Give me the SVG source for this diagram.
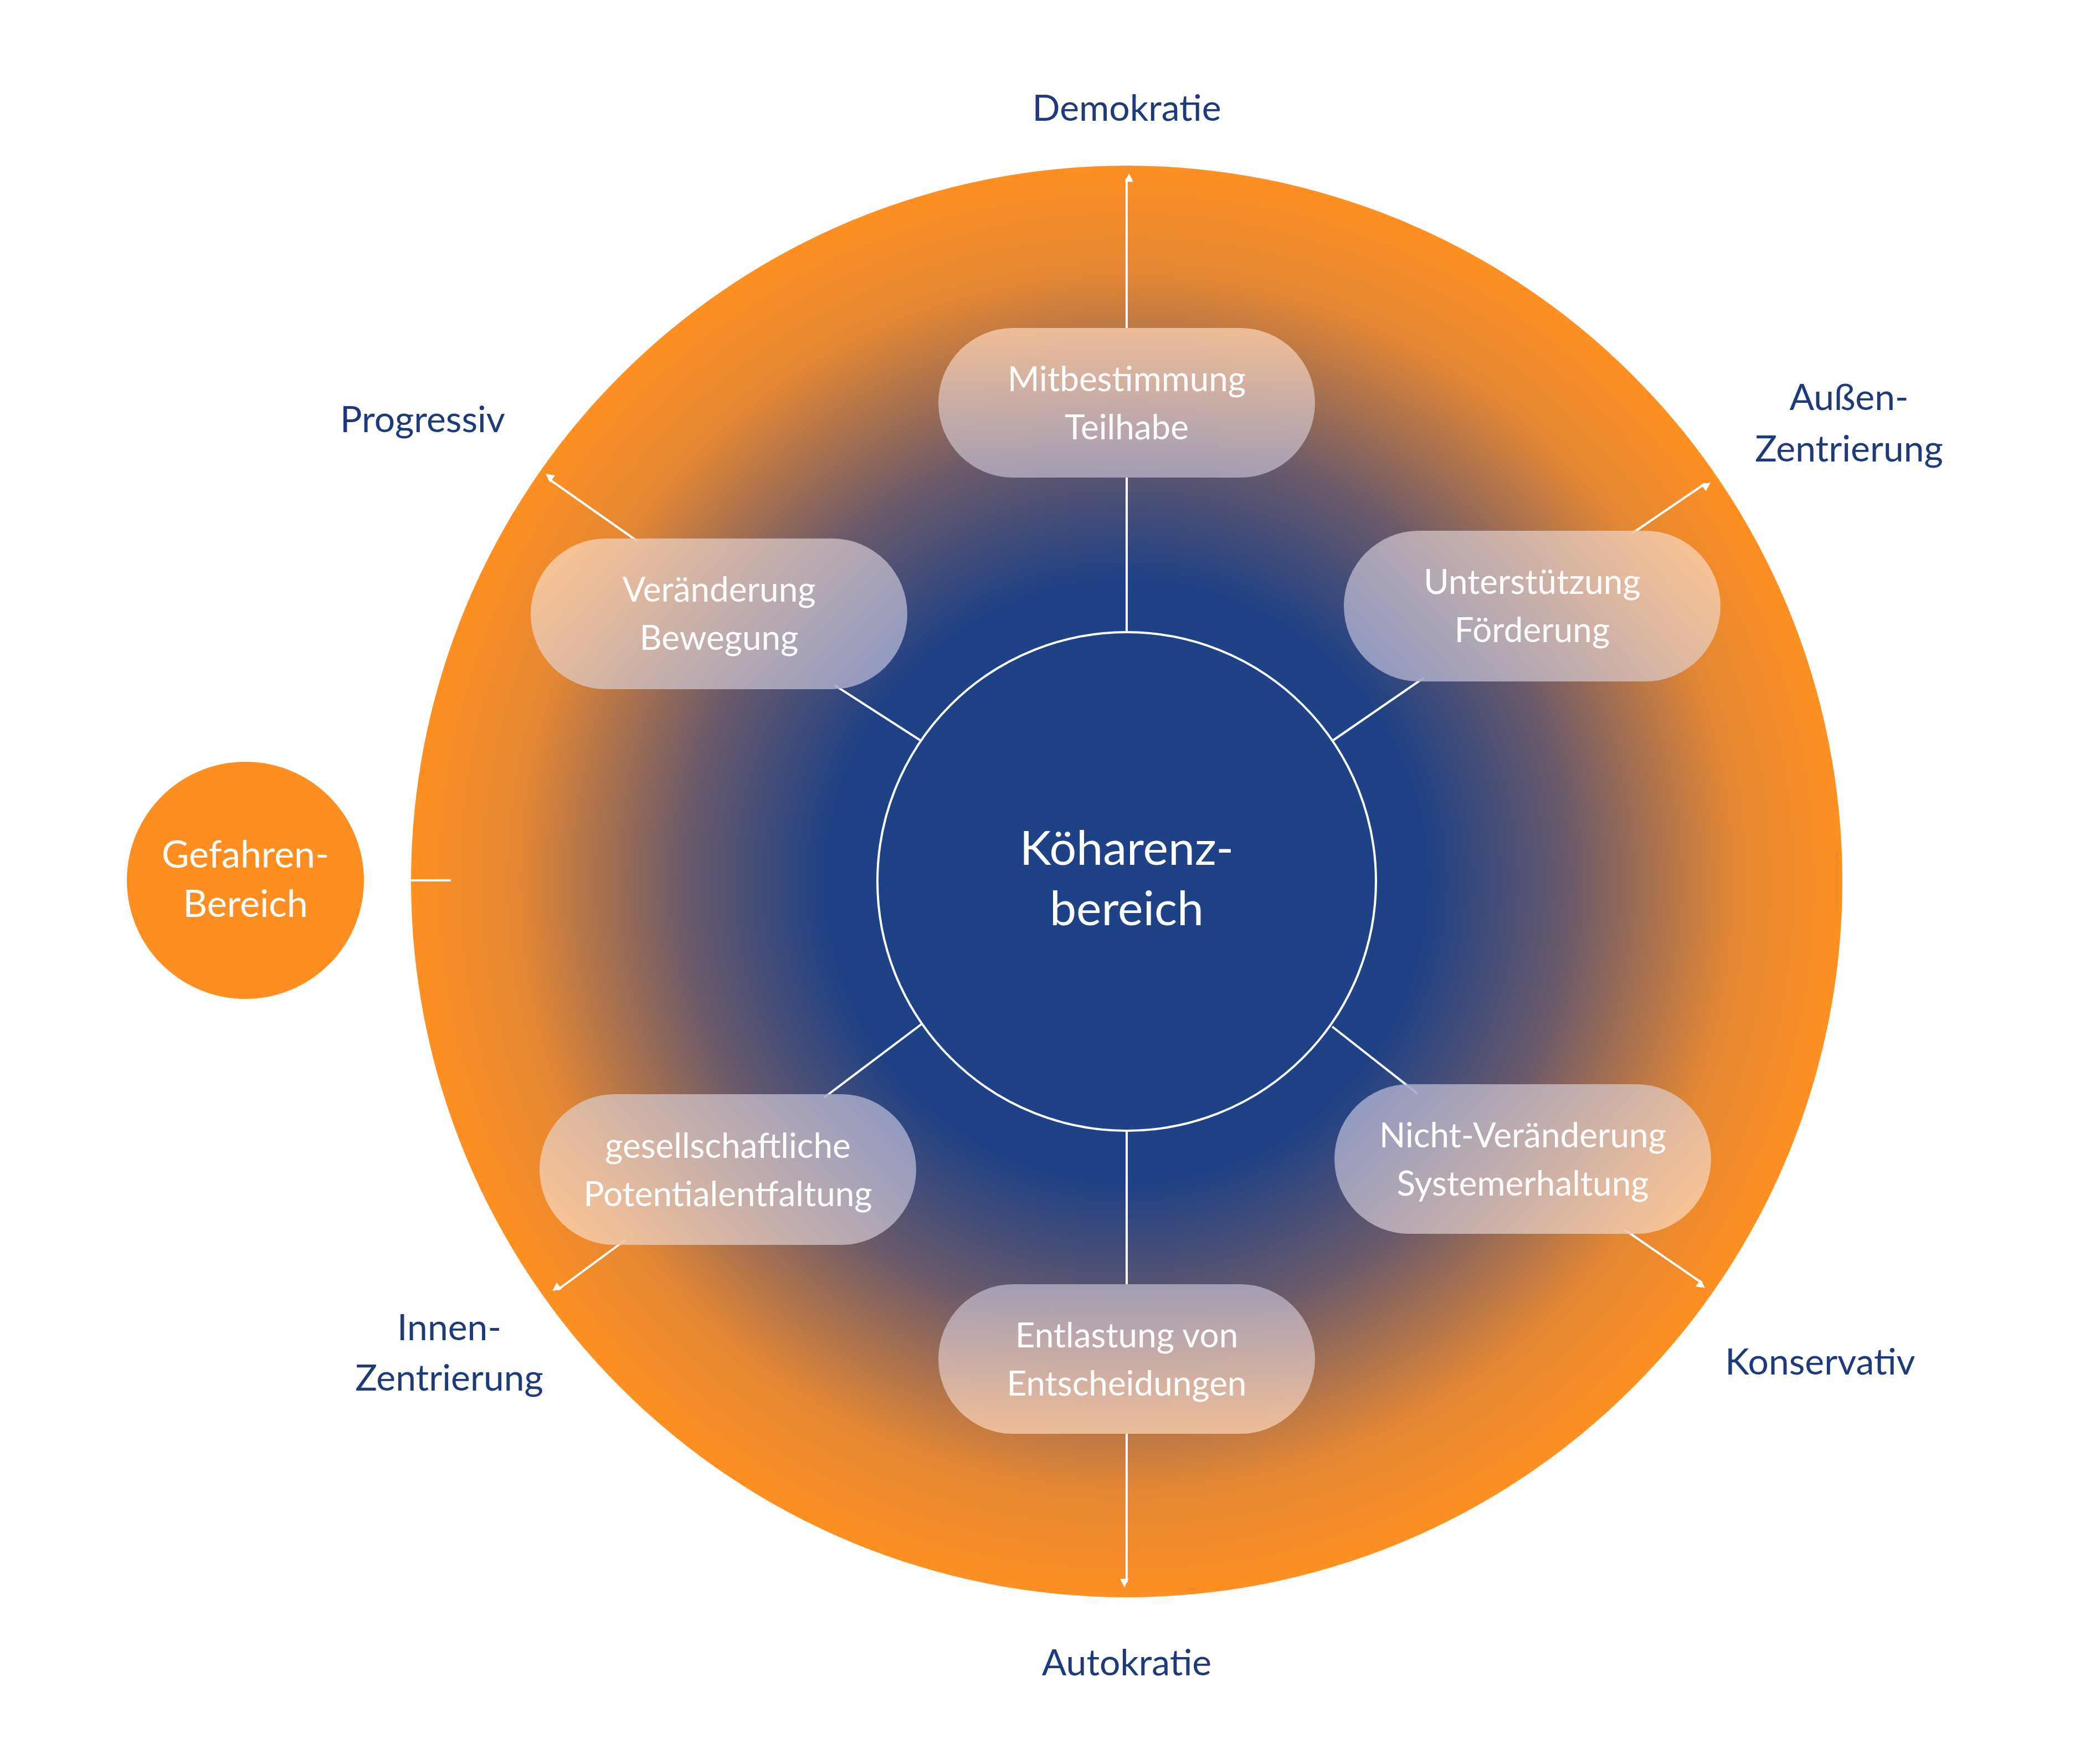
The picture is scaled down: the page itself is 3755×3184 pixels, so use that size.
<svg xmlns="http://www.w3.org/2000/svg" width="3755" height="3184" viewBox="0 0 3755 3184">
<defs>
<radialGradient id="bg" cx="2034" cy="1591" r="1292" gradientUnits="userSpaceOnUse">
<stop offset="0" stop-color="#1f4185"/>
<stop offset="0.42" stop-color="#1f4185"/>
<stop offset="0.62" stop-color="#6b5a6a"/>
<stop offset="0.85" stop-color="#e48734"/>
<stop offset="1" stop-color="#fd8f22"/>
</radialGradient>
<linearGradient id="pTop" x1="0" y1="0" x2="0" y2="1"><stop offset="0" stop-color="#f6c8a6" stop-opacity="0.85"/><stop offset="1" stop-color="#b0aac0" stop-opacity="0.85"/></linearGradient>
<linearGradient id="pBot" x1="0" y1="1" x2="0" y2="0"><stop offset="0" stop-color="#f6c8a6" stop-opacity="0.85"/><stop offset="1" stop-color="#b0aac0" stop-opacity="0.85"/></linearGradient>
<linearGradient id="pUL" x1="0" y1="0.3" x2="1" y2="0.7"><stop offset="0" stop-color="#f8c8a0" stop-opacity="0.9"/><stop offset="1" stop-color="#9ea4c8" stop-opacity="0.9"/></linearGradient>
<linearGradient id="pUR" x1="1" y1="0.3" x2="0" y2="0.7"><stop offset="0" stop-color="#f8c8a0" stop-opacity="0.9"/><stop offset="1" stop-color="#9ea4c8" stop-opacity="0.9"/></linearGradient>
<linearGradient id="pLL" x1="0" y1="0.7" x2="1" y2="0.3"><stop offset="0" stop-color="#f8c8a0" stop-opacity="0.9"/><stop offset="1" stop-color="#9ea4c8" stop-opacity="0.9"/></linearGradient>
<linearGradient id="pLR" x1="1" y1="0.7" x2="0" y2="0.3"><stop offset="0" stop-color="#f8c8a0" stop-opacity="0.9"/><stop offset="1" stop-color="#9ea4c8" stop-opacity="0.9"/></linearGradient>
<marker id="ar" viewBox="0 0 10 10" refX="9" refY="5" markerWidth="7" markerHeight="7" orient="auto" markerUnits="userSpaceOnUse" style="overflow:visible"><path d="M0,0 L10,5 L0,10 z" fill="#fff" transform="scale(2.2) translate(-5,-5) translate(5,5)"/></marker>
</defs>
<style>
.ln{stroke:#fff;stroke-width:4;fill:none}
.lab{font-family:Lato,"Noto Sans",sans-serif;font-size:66px;fill:#1f3a7a;text-anchor:middle}
.pt{font-family:Lato,"Noto Sans",sans-serif;font-size:62px;fill:#fff;text-anchor:middle}
</style>
<rect width="3755" height="3184" fill="#fff"/>
<circle cx="2034" cy="1591" r="1292" fill="url(#bg)"/>
<g id="connectors">
<line class="ln" x1="2034" y1="592" x2="2034" y2="322" marker-end="url(#ar)"/>
<line class="ln" x1="2034" y1="862" x2="2034" y2="1141"/>
<line class="ln" x1="2034" y1="2041" x2="2034" y2="2318"/>
<line class="ln" x1="2034" y1="2588" x2="2034" y2="2856" marker-end="url(#ar)"/>
<line class="ln" x1="1151" y1="977" x2="990" y2="864" marker-end="url(#ar)"/>
<line class="ln" x1="1507" y1="1237" x2="1661" y2="1336"/>
<line class="ln" x1="2946" y1="963" x2="3078" y2="873" marker-end="url(#ar)"/>
<line class="ln" x1="2571" y1="1223" x2="2407" y2="1336"/>
<line class="ln" x1="1129" y1="2238" x2="1007" y2="2328" marker-end="url(#ar)"/>
<line class="ln" x1="1488" y1="1981" x2="1663" y2="1849"/>
<line class="ln" x1="2932" y1="2219" x2="3073" y2="2316" marker-end="url(#ar)"/>
<line class="ln" x1="2559" y1="1974" x2="2405" y2="1853"/>
<line class="ln" x1="657" y1="1589" x2="814" y2="1589"/>
</g>
<g id="center"><circle cx="2034" cy="1591" r="450" fill="#1f4185" stroke="#fff" stroke-width="4"/>
<text class="pt" style="font-size:86px" x="2034" y="1561">Köharenz-</text><text class="pt" style="font-size:86px" x="2034" y="1670">bereich</text></g>
<g id="gefahren"><circle cx="443" cy="1589" r="214" fill="#fd8f22"/>
<text class="pt" style="font-size:68px" x="443" y="1566">Gefahren-</text><text class="pt" style="font-size:68px" x="443" y="1655">Bereich</text></g>
<g id="p1"><rect x="1694" y="592" width="680" height="270" rx="135" fill="url(#pTop)"/><text class="pt" x="2034" y="706">Mitbestimmung</text><text class="pt" x="2034" y="793">Teilhabe</text></g>
<g id="p2"><rect x="958" y="972" width="680" height="272" rx="136" fill="url(#pUL)"/><text class="pt" x="1298" y="1086">Veränderung</text><text class="pt" x="1298" y="1173">Bewegung</text></g>
<g id="p3"><rect x="2426" y="958" width="680" height="272" rx="136" fill="url(#pUR)"/><text class="pt" x="2766" y="1072">Unterstützung</text><text class="pt" x="2766" y="1159">Förderung</text></g>
<g id="p4"><rect x="974" y="1975" width="680" height="272" rx="136" fill="url(#pLL)"/><text class="pt" x="1314" y="2090">gesellschaftliche</text><text class="pt" x="1314" y="2177">Potentialentfaltung</text></g>
<g id="p5"><rect x="2409" y="1957" width="680" height="270" rx="135" fill="url(#pLR)"/><text class="pt" x="2749" y="2071">Nicht-Veränderung</text><text class="pt" x="2749" y="2158">Systemerhaltung</text></g>
<g id="p6"><rect x="1694" y="2318" width="680" height="270" rx="135" fill="url(#pBot)"/><text class="pt" x="2034" y="2432">Entlastung von</text><text class="pt" x="2034" y="2519">Entscheidungen</text></g>
<g id="labels">
<text class="lab" x="2034" y="218">Demokratie</text>
<text class="lab" x="763" y="780">Progressiv</text>
<text class="lab" x="3338" y="740">Außen-</text><text class="lab" x="3338" y="833">Zentrierung</text>
<text class="lab" x="811" y="2419">Innen-</text><text class="lab" x="811" y="2510">Zentrierung</text>
<text class="lab" x="3286" y="2481">Konservativ</text>
<text class="lab" x="2034" y="3024">Autokratie</text>
</g>
</svg>
